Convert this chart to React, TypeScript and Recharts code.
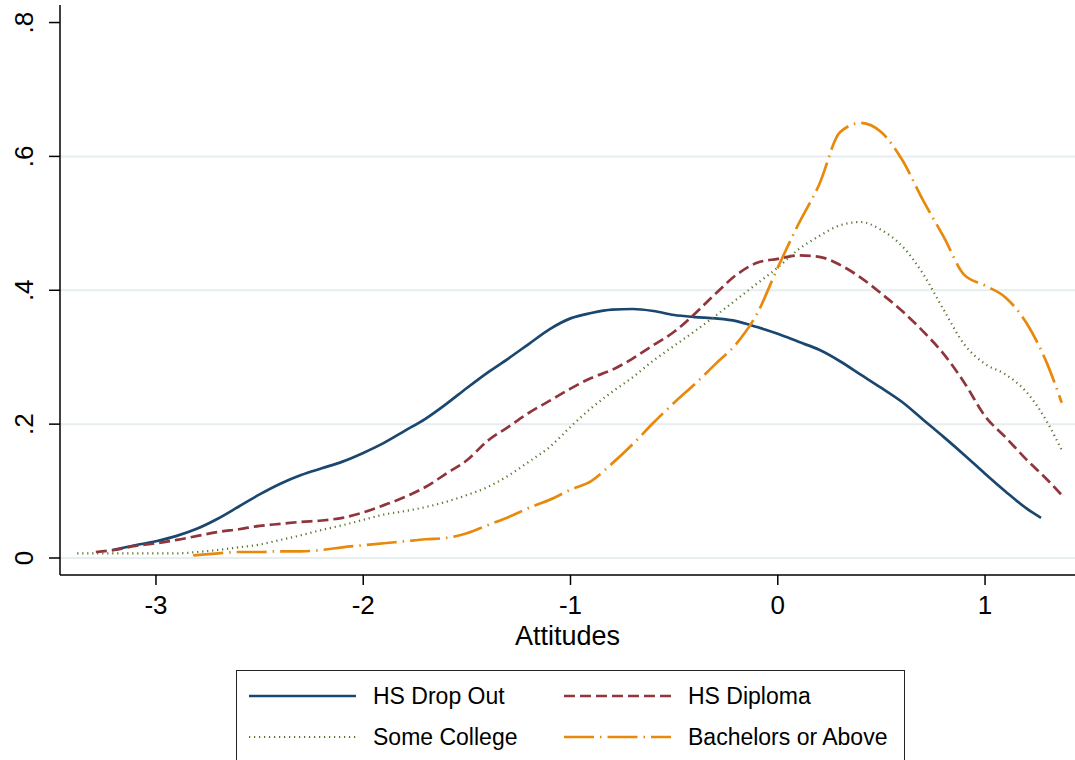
import React from 'react';
import { LineChart, Line, XAxis, YAxis, CartesianGrid } from 'recharts';

// kernel density estimates
const dropOutX = [-3.21, -3.1, -3.0, -2.9, -2.8, -2.7, -2.6, -2.5, -2.4, -2.3, -2.2, -2.1, -2.0, -1.9, -1.8, -1.7, -1.6, -1.5, -1.4, -1.3, -1.2, -1.1, -1.0, -0.9, -0.8, -0.7, -0.6, -0.5, -0.4, -0.3, -0.2, -0.1, 0, 0.1, 0.2, 0.3, 0.4, 0.5, 0.6, 0.7, 0.8, 0.9, 1.0, 1.1, 1.2, 1.27];
const dropOutY = [0.012, 0.019, 0.025, 0.033, 0.044, 0.059, 0.077, 0.095, 0.111, 0.124, 0.134, 0.144, 0.157, 0.172, 0.19, 0.208, 0.23, 0.254, 0.277, 0.298, 0.32, 0.342, 0.358, 0.366, 0.371, 0.372, 0.369, 0.363, 0.36, 0.358, 0.354, 0.345, 0.335, 0.323, 0.311, 0.294, 0.274, 0.254, 0.233, 0.207, 0.181, 0.154, 0.126, 0.099, 0.074, 0.06];

const diplomaX = [-3.29, -3.2, -3.1, -3.0, -2.9, -2.8, -2.7, -2.6, -2.5, -2.4, -2.3, -2.2, -2.1, -2.0, -1.9, -1.8, -1.7, -1.6, -1.5, -1.4, -1.3, -1.2, -1.1, -1.0, -0.9, -0.8, -0.7, -0.6, -0.5, -0.4, -0.3, -0.2, -0.1, 0, 0.1, 0.2, 0.3, 0.4, 0.5, 0.6, 0.7, 0.8, 0.9, 1.0, 1.1, 1.2, 1.3, 1.37];
const diplomaY = [0.009, 0.012, 0.018, 0.022, 0.027, 0.033, 0.039, 0.043, 0.048, 0.051, 0.054, 0.056, 0.06, 0.068, 0.079, 0.091, 0.106, 0.126, 0.146, 0.175, 0.196, 0.217, 0.235, 0.253, 0.269, 0.281, 0.298, 0.318, 0.338, 0.365, 0.395, 0.423, 0.441, 0.447, 0.452, 0.45, 0.438, 0.419, 0.395, 0.369, 0.339, 0.305, 0.262, 0.212, 0.18, 0.147, 0.117, 0.094];

const collegeX = [-3.38, -3.3, -3.2, -3.1, -3.0, -2.9, -2.8, -2.7, -2.6, -2.5, -2.4, -2.3, -2.2, -2.1, -2.0, -1.9, -1.8, -1.7, -1.6, -1.5, -1.4, -1.3, -1.2, -1.1, -1.0, -0.9, -0.8, -0.7, -0.6, -0.5, -0.4, -0.3, -0.2, -0.1, 0, 0.1, 0.2, 0.3, 0.4, 0.5, 0.6, 0.7, 0.8, 0.9, 1.0, 1.1, 1.2, 1.3, 1.37];
const collegeY = [0.007, 0.007, 0.007, 0.007, 0.007, 0.007, 0.009, 0.012, 0.016, 0.02, 0.027, 0.034, 0.042, 0.049, 0.057, 0.065, 0.07, 0.076, 0.084, 0.094, 0.106, 0.123, 0.144, 0.166, 0.196, 0.224, 0.248, 0.27, 0.295, 0.317, 0.339, 0.362, 0.386, 0.41, 0.434, 0.461, 0.481, 0.497, 0.502, 0.49, 0.466, 0.425, 0.371, 0.319, 0.29, 0.274, 0.248, 0.203, 0.161];

const bachelorsX = [-2.82, -2.7, -2.6, -2.5, -2.4, -2.3, -2.2, -2.1, -2.0, -1.9, -1.8, -1.7, -1.6, -1.5, -1.4, -1.3, -1.2, -1.1, -1.0, -0.9, -0.8, -0.7, -0.6, -0.5, -0.4, -0.3, -0.2, -0.1, 0, 0.1, 0.2, 0.3, 0.4, 0.5, 0.6, 0.7, 0.8, 0.9, 1.0, 1.1, 1.2, 1.3, 1.37];
const bachelorsY = [0.004, 0.007, 0.009, 0.009, 0.01, 0.01, 0.012, 0.016, 0.019, 0.022, 0.025, 0.028, 0.03, 0.037, 0.049, 0.061, 0.075, 0.087, 0.102, 0.115, 0.141, 0.17, 0.202, 0.232, 0.26, 0.29, 0.32, 0.365, 0.434, 0.499, 0.558, 0.636, 0.65, 0.636, 0.595, 0.535, 0.48, 0.423, 0.407, 0.389, 0.351, 0.29, 0.232];

const xTicks = [-3, -2, -1, 0, 1];
const yTicks = [0, 0.2, 0.4, 0.6, 0.8];
const gridValues = [0, 0.2, 0.4, 0.6];

const toPoints = (xs: number[], ys: number[]) => xs.map((x, i) => ({ x, y: ys[i] }));

const series = [
  { name: 'HS Drop Out', data: toPoints(dropOutX, dropOutY), color: '#1a476f', dash: undefined, width: 2.7 },
  { name: 'HS Diploma', data: toPoints(diplomaX, diplomaY), color: '#90353b', dash: '11 5', width: 2.7 },
  { name: 'Some College', data: toPoints(collegeX, collegeY), color: '#55752f', dash: '1.2 3.8', width: 2.2 },
  { name: 'Bachelors or Above', data: toPoints(bachelorsX, bachelorsY), color: '#e8890c', dash: '30 6 1.5 6', width: 2.7 },
];

const FONT = '"Liberation Sans", Arial, sans-serif';

const fmtY = (v: number) => (v === 0 ? '0' : String(v).replace(/^0/, ''));

const YTick = ({ x, y, payload }: any) => (
  <text x={x - 14} y={y} transform={`rotate(-90 ${x - 14} ${y})`} textAnchor="middle"
    fontSize={26} fill="#000" fontFamily={FONT}>
    {fmtY(payload.value)}
  </text>
);

const XTick = ({ x, y, payload }: any) => (
  <text x={x} y={y + 27} textAnchor="middle" fontSize={26} fill="#000" fontFamily={FONT}>
    {payload.value}
  </text>
);

const legendRows = [[0, 1], [2, 3]];

const App: React.FC = () => {
  return (
    <div style={{ position: 'absolute', left: 0, top: 0, width: 1075, height: 760, overflow: 'hidden', background: '#fff' }}>
      <LineChart width={1075} height={800} margin={{ top: 5, right: 0, left: 0, bottom: 145 }}>
        <CartesianGrid horizontal vertical={false} stroke="#e6eef0" strokeWidth={2} horizontalValues={gridValues} />
        <XAxis
          type="number"
          dataKey="x"
          domain={[-3.463, 1.434]}
          ticks={xTicks}
          allowDataOverflow
          height={80}
          tickSize={10}
          stroke="#000"
          strokeWidth={1.5}
          tick={<XTick />}
          label={({ viewBox }: any) => (
            <text x={viewBox.x + viewBox.width / 2} y={viewBox.y + 70} textAnchor="middle"
              fontSize={27} fill="#000" fontFamily={FONT}>Attitudes</text>
          )}
        />
        <YAxis
          type="number"
          dataKey="y"
          domain={[-0.0254, 0.8262]}
          ticks={yTicks}
          allowDataOverflow
          width={60}
          tickSize={11}
          stroke="#000"
          strokeWidth={1.5}
          tick={<YTick />}
        />
        {series.map(s => (
          <Line
            key={s.name}
            data={s.data}
            dataKey="y"
            name={s.name}
            type="monotone"
            stroke={s.color}
            strokeWidth={s.width}
            strokeDasharray={s.dash}
            dot={false}
            activeDot={false}
            isAnimationActive={false}
          />
        ))}
      </LineChart>
      {/* legend box, clipped at the bottom like the original */}
      <div style={{ position: 'absolute', left: 236, top: 670, width: 667, height: 120, border: '1.5px solid #222', fontFamily: FONT, fontSize: 23 }}>
        {legendRows.map((row, r) =>
          row.map((idx, c) => {
            const s = series[idx];
            const top = 25 + r * 41;
            const left = c === 0 ? 12 : 327;
            return (
              <React.Fragment key={s.name}>
                <svg style={{ position: 'absolute', left, top: top - 5 }} width={108} height={10}>
                  <line x1={0} y1={5} x2={107} y2={5} stroke={s.color} strokeWidth={s.width} strokeDasharray={s.dash} />
                </svg>
                <span style={{ position: 'absolute', left: left + 124, top: top - 14, lineHeight: '28px', whiteSpace: 'nowrap' }}>{s.name}</span>
              </React.Fragment>
            );
          })
        )}
      </div>
    </div>
  );
};

export default App;
